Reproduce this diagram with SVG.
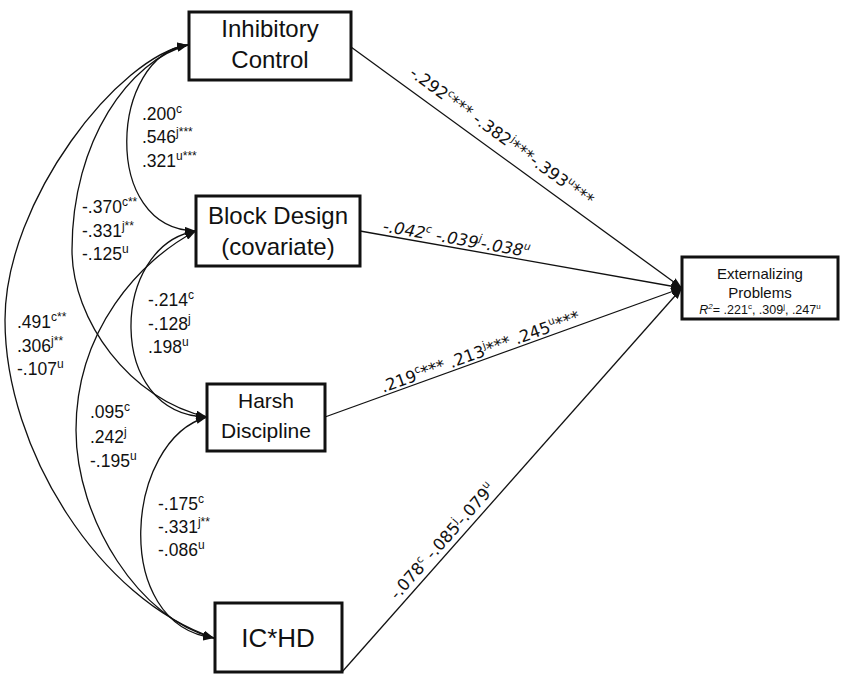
<svg xmlns="http://www.w3.org/2000/svg" width="842" height="674" viewBox="0 0 842 674">
<defs>
<marker id="ah" markerWidth="11" markerHeight="8" refX="11" refY="4" orient="auto-start-reverse" markerUnits="userSpaceOnUse"><path d="M0,0 L11,4 L0,8 z" fill="#111"/></marker>
<style>
.box{fill:#fff;stroke:#111;stroke-width:3}
.lbl{font-family:"Liberation Sans",Arial,sans-serif;fill:#111;text-anchor:middle}
.coef{font-family:"Liberation Sans",Arial,sans-serif;font-size:17.5px;fill:#111}
.sup{font-size:12px}
.rot{font-family:"DejaVu Sans",sans-serif;font-size:16.5px;fill:#111}
.conn path{fill:none;stroke:#111;stroke-width:1.3}
</style>
</defs>
<rect width="842" height="674" fill="#fff"/>
<g id="node-ic"><rect class="box" x="189" y="12" width="162" height="68"/><text class="lbl" font-size="24" x="270" y="37">Inhibitory</text><text class="lbl" font-size="24" x="270" y="68">Control</text></g>
<g id="node-bd"><rect class="box" x="196" y="196" width="164" height="70"/><text class="lbl" font-size="24" x="278" y="224">Block Design</text><text class="lbl" font-size="24" x="278" y="255">(covariate)</text></g>
<g id="node-hd"><rect class="box" x="207" y="384" width="118" height="67"/><text class="lbl" font-size="21" x="266" y="408">Harsh</text><text class="lbl" font-size="21" x="266" y="438">Discipline</text></g>
<g id="node-ichd"><rect class="box" x="215" y="603" width="127" height="69"/><text class="lbl" font-size="26" x="278" y="647">IC*HD</text></g>
<g id="node-ep"><rect class="box" x="682" y="257" width="156" height="62"/><text class="lbl" font-size="15" x="760" y="279">Externalizing</text><text class="lbl" font-size="15" x="760" y="298">Problems</text><text class="lbl" font-size="12.5" x="760" y="314"><tspan font-style="italic">R</tspan><tspan font-style="italic" font-size="8" dy="-5">2</tspan><tspan dy="5">= .221</tspan><tspan font-size="8" dy="-5">c</tspan><tspan dy="5">, .309</tspan><tspan font-size="8" dy="-5">j</tspan><tspan dy="5">, .247</tspan><tspan font-size="8" dy="-5">u</tspan></text></g>
<g id="connectors" class="conn">
<path d="M351,47 L682,288" marker-end="url(#ah)"/>
<path d="M360,231 L682,288" marker-end="url(#ah)"/>
<path d="M325,417 L682,288" marker-end="url(#ah)"/>
<path d="M342,672 L682,288" marker-end="url(#ah)"/>
<path d="M188,45 C110,55 100,230 196,231" marker-start="url(#ah)" marker-end="url(#ah)"/>
<path d="M188,45 C130,60 72,140 72,250 C72,320 130,400 207,417" marker-start="url(#ah)" marker-end="url(#ah)"/>
<path d="M188,45 C120,55 5,200 5,320 C5,450 100,600 214,638" marker-start="url(#ah)" marker-end="url(#ah)"/>
<path d="M196,231 C110,245 105,415 207,417" marker-start="url(#ah)" marker-end="url(#ah)"/>
<path d="M196,231 C140,260 76,330 76,430 C76,520 140,620 214,638" marker-start="url(#ah)" marker-end="url(#ah)"/>
<path d="M207,417 C125,440 110,625 214,638" marker-start="url(#ah)" marker-end="url(#ah)"/>
</g>
<g id="labels">
<text class="coef" x="142" y="120">.200<tspan class="sup" dy="-7">c</tspan></text>
<text class="coef" x="142" y="143">.546<tspan class="sup" dy="-7">j***</tspan></text>
<text class="coef" x="142" y="167">.321<tspan class="sup" dy="-7">u***</tspan></text>
<text class="coef" x="82" y="213">-.370<tspan class="sup" dy="-7">c**</tspan></text>
<text class="coef" x="82" y="237">-.331<tspan class="sup" dy="-7">j**</tspan></text>
<text class="coef" x="82" y="260">-.125<tspan class="sup" dy="-7">u</tspan></text>
<text class="coef" x="148" y="306">-.214<tspan class="sup" dy="-7">c</tspan></text>
<text class="coef" x="148" y="330">-.128<tspan class="sup" dy="-7">j</tspan></text>
<text class="coef" x="148" y="353">.198<tspan class="sup" dy="-7">u</tspan></text>
<text class="coef" x="17" y="328">.491<tspan class="sup" dy="-7">c**</tspan></text>
<text class="coef" x="17" y="352">.306<tspan class="sup" dy="-7">j**</tspan></text>
<text class="coef" x="17" y="375">-.107<tspan class="sup" dy="-7">u</tspan></text>
<text class="coef" x="90" y="418">.095<tspan class="sup" dy="-7">c</tspan></text>
<text class="coef" x="90" y="443">.242<tspan class="sup" dy="-7">j</tspan></text>
<text class="coef" x="90" y="467">-.195<tspan class="sup" dy="-7">u</tspan></text>
<text class="coef" x="158" y="510">-.175<tspan class="sup" dy="-7">c</tspan></text>
<text class="coef" x="158" y="533">-.331<tspan class="sup" dy="-7">j**</tspan></text>
<text class="coef" x="158" y="556">-.086<tspan class="sup" dy="-7">u</tspan></text>
<text class="rot" transform="translate(408.4,75.2) rotate(36.06)">-.292<tspan dy="-7" font-size="10.5">c</tspan><tspan dy="7">*** -.382</tspan><tspan dy="-7" font-size="10.5">j</tspan><tspan dy="7">***-.393</tspan><tspan dy="-7" font-size="10.5">u</tspan><tspan dy="7">***</tspan></text>
<text class="rot" font-style="italic" transform="translate(382.3,231.4) rotate(10.04)">-.042<tspan dy="-7" font-size="10.5">c</tspan><tspan dy="7"> -.039</tspan><tspan dy="-7" font-size="10.5">j</tspan><tspan dy="7">-.038</tspan><tspan dy="-7" font-size="10.5">u</tspan></text>
<text class="rot" font-size="17" transform="translate(383.3,392.8) rotate(-19.87)">.219<tspan dy="-7" font-size="10.5">c</tspan><tspan dy="7">*** .213</tspan><tspan dy="-7" font-size="10.5">j</tspan><tspan dy="7">*** .245</tspan><tspan dy="-7" font-size="10.5">u</tspan><tspan dy="7">***</tspan></text>
<text class="rot" transform="translate(397.2,600.6) rotate(-48.48)">-.078<tspan dy="-7" font-size="10.5">c</tspan><tspan dy="7"> -.085</tspan><tspan dy="-7" font-size="10.5">j</tspan><tspan dy="7">-.079</tspan><tspan dy="-7" font-size="10.5">u</tspan></text>
</g>
</svg>
